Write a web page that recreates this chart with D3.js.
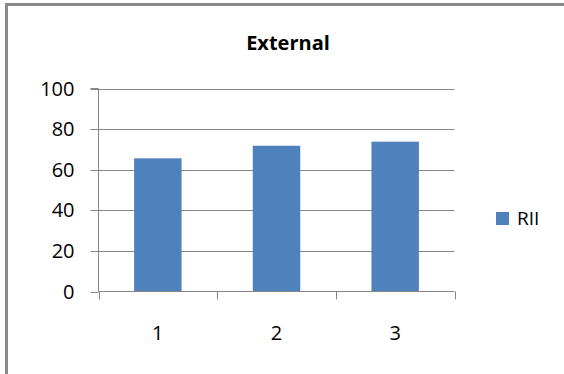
<!DOCTYPE html>
<html>
<head>
<meta charset="utf-8">
<script src="https://cdn.jsdelivr.net/npm/d3@7"></script>
<style>
  html, body { margin: 0; padding: 0; background: #fff; }
  svg { display: block; }
  text { font-family: "Open Sans", "Liberation Sans", sans-serif; fill: #000; }
</style>
</head>
<body>
<svg id="chart" width="564" height="374"></svg>
<script>
// Chart data
const categories = ["1", "2", "3"];
const seriesName = "RII";
const values = [65.6, 71.8, 73.8];
const yTicks = [0, 20, 40, 60, 80, 100];
const title = "External";

const W = 564, H = 374;
const plot = { left: 98.5, right: 454.5, top: 88.5, bottom: 291.5 };
const barColor = "#4f81bd";
const gridColor = "#868686";

const svg = d3.select("#chart");

// Outer chart frame
svg.append("rect")
  .attr("x", 6.5).attr("y", 4.5)
  .attr("width", W + 10).attr("height", H + 10)
  .attr("fill", "#fff")
  .attr("stroke", "#8a8a8a")
  .attr("stroke-width", 3);

const x = d3.scaleBand()
  .domain(categories)
  .range([plot.left, plot.right])
  .paddingInner(0.6)
  .paddingOuter(0.3);

const xOuter = d3.scaleBand()
  .domain(categories)
  .range([plot.left, plot.right]);

const y = d3.scaleLinear()
  .domain([0, 100])
  .range([plot.bottom, plot.top]);

// Horizontal gridlines
svg.append("g")
  .selectAll("line")
  .data(yTicks.filter(d => d > 0))
  .join("line")
  .attr("x1", plot.left).attr("x2", plot.right)
  .attr("y1", d => Math.round(y(d)) + 0.5)
  .attr("y2", d => Math.round(y(d)) + 0.5)
  .attr("stroke", gridColor)
  .attr("stroke-width", 1);

// Bars
svg.append("g")
  .selectAll("rect")
  .data(values)
  .join("rect")
  .attr("x", (d, i) => x(categories[i]))
  .attr("width", x.bandwidth())
  .attr("y", d => y(d))
  .attr("height", d => y(0) - y(d))
  .attr("fill", barColor);

// Y axis
const yAxis = d3.axisLeft(y)
  .tickValues(yTicks)
  .tickSize(8)
  .tickPadding(16)
  .tickFormat(d3.format("d"));

const gy = svg.append("g")
  .attr("transform", `translate(${plot.left},0)`)
  .call(yAxis);
gy.select(".domain").attr("stroke", gridColor).attr("d", `M-8,${plot.top}H0V${plot.bottom}`);
gy.selectAll(".tick line").attr("stroke", gridColor);
gy.selectAll(".tick").attr("transform", d => `translate(0,${Math.round(y(d)) + 0.5})`);
gy.selectAll(".tick text")
  .attr("font-size", 20)
  .attr("font-family", "Open Sans, sans-serif")
  .attr("fill", "#000");

// X axis baseline and category boundary ticks
const gx = svg.append("g");
gx.append("line")
  .attr("x1", plot.left).attr("x2", plot.right)
  .attr("y1", plot.bottom).attr("y2", plot.bottom)
  .attr("stroke", gridColor);
const boundaries = categories.map(c => xOuter(c)).concat([plot.right]);
gx.selectAll("line.bound")
  .data(boundaries)
  .join("line")
  .attr("class", "bound")
  .attr("x1", d => Math.round(d) + 0.5).attr("x2", d => Math.round(d) + 0.5)
  .attr("y1", plot.bottom).attr("y2", plot.bottom + 8)
  .attr("stroke", gridColor);
gx.selectAll("text")
  .data(categories)
  .join("text")
  .attr("x", d => xOuter(d) + xOuter.bandwidth() / 2)
  .attr("y", 340)
  .attr("text-anchor", "middle")
  .attr("font-size", 20)
  .text(d => d);

// Title
svg.append("text")
  .attr("x", 288)
  .attr("y", 50)
  .attr("text-anchor", "middle")
  .attr("font-size", 20)
  .attr("font-weight", "bold")
  .text(title);

// Legend
const lg = svg.append("g").attr("transform", "translate(496,212)");
lg.append("rect").attr("width", 13).attr("height", 13).attr("fill", barColor);
lg.append("text").attr("x", 21).attr("y", 13).attr("font-size", 19).text(seriesName);
</script>
</body>
</html>
